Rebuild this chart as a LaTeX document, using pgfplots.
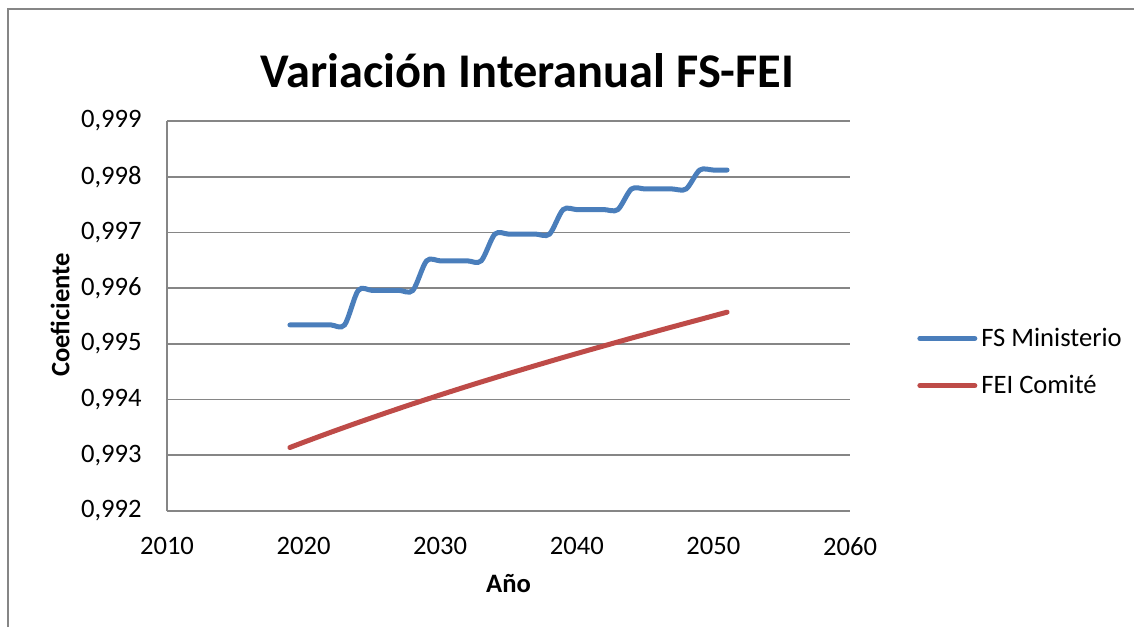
\documentclass[border=0pt]{standalone}
\usepackage{fontspec}
\setmainfont{Carlito}
\usepackage{pgfplots}
\pgfplotsset{compat=1.18}
\definecolor{fsblue}{HTML}{4A7EBB}
\definecolor{feired}{HTML}{BE4B48}
\definecolor{axgray}{HTML}{868686}
\begin{document}
\begin{tikzpicture}
\path[use as bounding box] (0,0) rectangle (567pt,313.5pt);
\draw[axgray, line width=0.75pt] (4pt,0) -- (4pt,309pt) -- (567pt,309pt);
\begin{axis}[
  at={(83.5pt,58pt)}, anchor=south west,
  scale only axis, width=341.5pt, height=195pt,
  xmin=2010, xmax=2060, ymin=0.992, ymax=0.999,
  axis x line*=bottom, axis y line*=left,
  axis line style={axgray, line width=0.8pt},
  xtick={2010,2020,2030,2040,2050,2060},
  xticklabels={2010,2020,2030,2040,2050,2060},
  ytick={0.992,0.993,0.994,0.995,0.996,0.997,0.998,0.999},
  yticklabels={{0,992},{0,993},{0,994},{0,995},{0,996},{0,997},{0,998},{0,999}},
  major tick length=0pt,
  ticklabel style={font=\fontsize{13.3}{15}\selectfont, inner sep=0pt},
  yticklabel style={anchor=east, xshift=-12.5pt},
  xticklabel style={anchor=north, yshift=-13pt},
  ymajorgrids, grid style={axgray, line width=0.8pt},
  clip=false,
  legend style={draw=none, fill=none, at={(1.098,0.382)}, anchor=west,
    font=\fontsize{13.3}{15}\selectfont, inner sep=0pt, row sep=9pt,
    cells={anchor=west}},
  legend image code/.code={\draw[#1, line width=2.5pt, line cap=round] (0pt,0pt) -- (27.5pt,0pt);},
]
\addplot[fsblue, line width=2.5pt, line cap=round, smooth, tension=0.5] coordinates {
(2019,0.99534)(2020,0.99534)(2021,0.99534)(2022,0.99534)(2023,0.99534)
(2024,0.99596)(2025,0.99596)(2026,0.99596)(2027,0.99596)(2028,0.99596)
(2029,0.99649)(2030,0.99649)(2031,0.99649)(2032,0.99649)(2033,0.99649)
(2034,0.99697)(2035,0.99697)(2036,0.99697)(2037,0.99697)(2038,0.99697)
(2039,0.99741)(2040,0.99741)(2041,0.99741)(2042,0.99741)(2043,0.99741)
(2044,0.99778)(2045,0.99778)(2046,0.99778)(2047,0.99778)(2048,0.99778)
(2049,0.99812)(2050,0.99812)(2051,0.99812)
};
\addlegendentry{FS Ministerio}
\addplot[feired, line width=2.5pt, line cap=round, smooth] coordinates {
(2019,0.993140)(2020,0.993233)(2021,0.993324)(2022,0.993414)(2023,0.993502)
(2024,0.993589)(2025,0.993674)(2026,0.993759)(2027,0.993842)(2028,0.993924)
(2029,0.994004)(2030,0.994084)(2031,0.994162)(2032,0.994240)(2033,0.994316)
(2034,0.994391)(2035,0.994466)(2036,0.994539)(2037,0.994612)(2038,0.994684)
(2039,0.994756)(2040,0.994826)(2041,0.994896)(2042,0.994965)(2043,0.995034)
(2044,0.995103)(2045,0.995170)(2046,0.995238)(2047,0.995305)(2048,0.995371)
(2049,0.995437)(2050,0.995503)(2051,0.995569)
};
\addlegendentry{FEI Comité}
\end{axis}
\node[anchor=base, inner sep=0pt] at (263.75pt,269.5pt) {\fontsize{24.2}{29}\selectfont\bfseries Variación Interanual FS-FEI};
\node[anchor=base, inner sep=0pt] at (254.25pt,17.5pt) {\fontsize{13.3}{15}\selectfont\bfseries Año};
\node[rotate=90, anchor=center, inner sep=0pt] at (30pt,156pt) {\fontsize{13.3}{15}\selectfont\bfseries Coeficiente};
\end{tikzpicture}
\end{document}
